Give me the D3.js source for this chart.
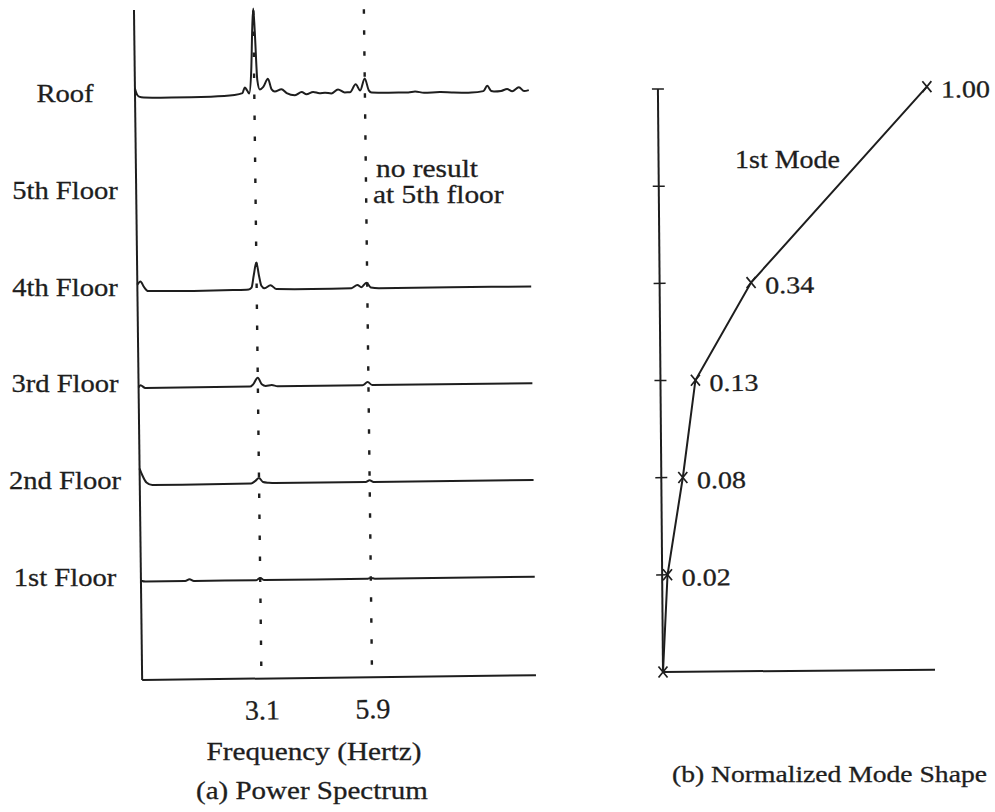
<!DOCTYPE html>
<html>
<head>
<meta charset="utf-8">
<script src="https://cdn.jsdelivr.net/npm/d3@7"></script>
<style>
  body { margin: 0; background: #fff; }
  svg text { font-family: 'Liberation Serif', 'Times New Roman', serif; fill: #1e1e1e; stroke: #1e1e1e; stroke-width: 0.3px; }
</style>
</head>
<body>
<svg id="chart" width="995" height="812"></svg>
<script>

var
	floors = ['Roof', '5th Floor', '4th Floor', '3rd Floor', '2nd Floor', '1st Floor'],
	markedFreqs = [3.1, 5.9],
	freqTickLabels = ['3.1', '5.9'];

// power spectra, [frequency in Hz, relative power] (roof peak = 100)
var roofSpectrum = [
	[0.08, 11], [0.12, 5], [0.18, 1.5], [0.3, 0.5], [1.0, 0], [2.0, 0.5], [2.6, 2], [2.8, 4],
	[2.86, 10.5], [2.92, 7], [2.97, 3.5], [3.03, 30], [3.07, 80], [3.1, 100], [3.13, 75],
	[3.18, 19], [3.24, 8], [3.33, 11], [3.45, 20], [3.54, 8], [3.62, 5.5], [3.79, 8],
	[3.92, 3.5], [4.13, 1], [4.3, 4.5], [4.42, 2], [4.59, 4.5], [4.75, 3], [4.89, 3.5],
	[5.05, 2.5], [5.22, 7], [5.39, 3.5], [5.52, 3.5], [5.67, 12.5], [5.78, 5.5], [5.9, 19],
	[6.0, 5.5], [6.07, 3], [6.5, 2.5], [7.0, 2.5], [7.17, 3.5], [7.4, 2], [7.8, 2.5], [8.1, 2],
	[8.6, 1.5], [8.9, 3], [9.0, 9], [9.1, 3], [9.17, 2.5], [9.35, 3], [9.5, 5], [9.63, 2.5],
	[9.8, 7], [9.93, 2.5], [10.05, 3.5]
];
var fifthSpectrum = []; // no result at 5th floor
var fourthSpectrum = [
	[0.08, 8], [0.16, 11.5], [0.25, 5], [0.35, 0.5], [1.5, 0], [2.5, 0.5], [2.9, 1], [2.97, 3],
	[3.03, 17], [3.1, 31.5], [3.16, 17], [3.22, 5], [3.3, 2], [3.45, 5.5], [3.6, 1], [4.5, 0.5],
	[5.5, 1], [5.65, 4.5], [5.75, 2], [5.88, 7], [5.99, 1.5], [6.2, 0.5], [8, 0.5], [10.05, 0.5]
];
var thirdSpectrum = [
	[0.08, 1], [0.13, 3.5], [0.25, 0.5], [2.9, 0.5], [2.98, 3], [3.1, 10.5], [3.2, 3], [3.3, 1],
	[3.45, 2], [3.6, 0.5], [5.75, 0.5], [5.88, 4], [6.0, 0.5], [10.05, 0.5]
];
var secondSpectrum = [
	[0.08, 19], [0.15, 11], [0.25, 3], [0.4, 0], [2.9, 0.5], [3.0, 3], [3.1, 6.5], [3.2, 2],
	[3.35, 1], [3.5, 0.5], [5.8, 0.5], [5.9, 2.5], [6.0, 0.5], [10.05, 0.5]
];
var firstSpectrum = [
	[0.08, 1.5], [0.2, 0.5], [1.2, 0.5], [1.31, 2.5], [1.42, 0.5], [3.0, 0.5], [3.1, 3],
	[3.2, 0.5], [5.8, 0.5], [5.9, 1.5], [6.0, 0.5], [10.05, 0.5]
];

// 1st mode shape, level 0 = ground ... 6 = roof (5th floor missing)
var
	modeLevels = [0, 1, 2, 3, 4, 6],
	modeValues = [0, 0.02, 0.08, 0.13, 0.34, 1.00],
	modeLabels = ['', '0.02', '0.08', '0.13', '0.34', '1.00'],
	levelTicks = [1, 2, 3, 4, 5, 6];

var
	svg = d3.select('#chart'),
	spectra = [roofSpectrum, fifthSpectrum, fourthSpectrum, thirdSpectrum, secondSpectrum, firstSpectrum],
	freqX = d3.scaleLinear().domain([0, 10]).range([139, 534]),
	floorY = d3.scalePoint().domain(floors).range([98, 582]),
	powerH = d3.scaleLinear().domain([0, 100]).range([0, 88]),
	levelY = d3.scaleLinear().domain([0, 6]).range([672, 89]),
	modeX = d3.scaleLinear().domain([0, 1]).range([663, 932]),
	ink = '#1e1e1e';

function addText(g, x, y, str, size, stretch, anchor) {
	return g.append('text')
		.attr('transform', 'translate(' + x + ',' + y + ') scale(' + stretch + ',1)')
		.attr('text-anchor', anchor || 'start')
		.style('font-size', size + 'px')
		.text(str)
}

// ---- (a) power spectrum ----
// the scanned page is a little rotated
var left = svg.append('g').attr('transform', 'rotate(-0.7,142,680)');
var axisX0 = freqX(0.08), baseY = 680;

left.append('line')
	.attr('x1', axisX0).attr('y1', 10).attr('x2', axisX0).attr('y2', baseY)
	.attr('stroke', ink).attr('stroke-width', 2)
left.append('line')
	.attr('x1', axisX0).attr('y1', baseY).attr('x2', 536).attr('y2', baseY)
	.attr('stroke', ink).attr('stroke-width', 2)

left.selectAll('.mark')
	.data(markedFreqs)
	.enter()
	.append('line')
	.attr('class', 'mark')
	.attr('x1', d => freqX(d)).attr('x2', d => freqX(d))
	.attr('y1', 12).attr('y2', baseY)
	.attr('stroke', ink).attr('stroke-width', 2.4)
	.attr('stroke-dasharray', '4.5,16.5')

left.selectAll('.trace')
	.data(floors)
	.enter()
	.append('path')
	.attr('class', 'trace')
	.attr('fill', 'none')
	.attr('stroke', ink)
	.attr('stroke-width', 2)
	.attr('stroke-linejoin', 'round')
	.attr('d', function(f, i) {
		if (!spectra[i].length) return null
		var base = floorY(f)
		return d3.line()
			.x(d => freqX(d[0]))
			.y(d => base - powerH(d[1]))
			.curve(d3.curveMonotoneX)(spectra[i])
	})

var xAxis = left.append('g')
	.attr('transform', 'translate(0,' + baseY + ')')
	.call(d3.axisBottom(freqX).tickValues(markedFreqs)
		.tickFormat((d, i) => freqTickLabels[i]).tickSize(0))
xAxis.select('.domain').remove()
xAxis.selectAll('text')
	.attr('y', 41).attr('dy', null)
	.style('font-size', '28px')

floors.forEach(function(f) {
	addText(svg, 65, floorY(f) + 4, f, 26, 1.1, 'middle')
})

addText(svg, 376, 177, 'no result', 24.5, 1.2)
addText(svg, 373, 203, 'at 5th floor', 24.5, 1.2)
addText(svg, 314, 760, 'Frequency (Hertz)', 25, 1.17, 'middle')
addText(svg, 312, 799, '(a) Power Spectrum', 25, 1.16, 'middle')

// ---- (b) normalized mode shape ----
var right = svg.append('g').attr('transform', 'rotate(-0.5,663,672)');

right.append('line')
	.attr('x1', modeX(0)).attr('y1', levelY(0)).attr('x2', modeX(0)).attr('y2', levelY(6))
	.attr('stroke', ink).attr('stroke-width', 2)
right.append('line')
	.attr('x1', modeX(0)).attr('y1', levelY(0)).attr('x2', 935).attr('y2', levelY(0))
	.attr('stroke', ink).attr('stroke-width', 2)
right.selectAll('.tick')
	.data(levelTicks)
	.enter()
	.append('line')
	.attr('x1', modeX(0) - 6).attr('x2', modeX(0) + 6)
	.attr('y1', d => levelY(d)).attr('y2', d => levelY(d))
	.attr('stroke', ink).attr('stroke-width', 1.5)

right.append('path')
	.datum(d3.range(modeValues.length))
	.attr('fill', 'none')
	.attr('stroke', ink)
	.attr('stroke-width', 2)
	.attr('d', d3.line().x(i => modeX(modeValues[i])).y(i => levelY(modeLevels[i])))

var pts = right.selectAll('.pt')
	.data(d3.range(modeValues.length))
	.enter()
	.append('g')
	.attr('class', 'pt')
	.attr('transform', i => 'translate(' + modeX(modeValues[i]) + ',' + levelY(modeLevels[i]) + ')')

pts.append('path')
	.attr('d', 'M-4.5,-5.5L4.5,5.5M-4.5,5.5L4.5,-5.5')
	.attr('fill', 'none')
	.attr('stroke', ink)
	.attr('stroke-width', 1.7)

pts.each(function(i) {
	addText(d3.select(this), 14, 11, modeLabels[i], 24, 1.17)
})

addText(svg, 735, 168, '1st Mode', 25, 1.12)
addText(svg, 672, 782, '(b) Normalized Mode Shape', 24, 1.15)

</script>
</body>
</html>
